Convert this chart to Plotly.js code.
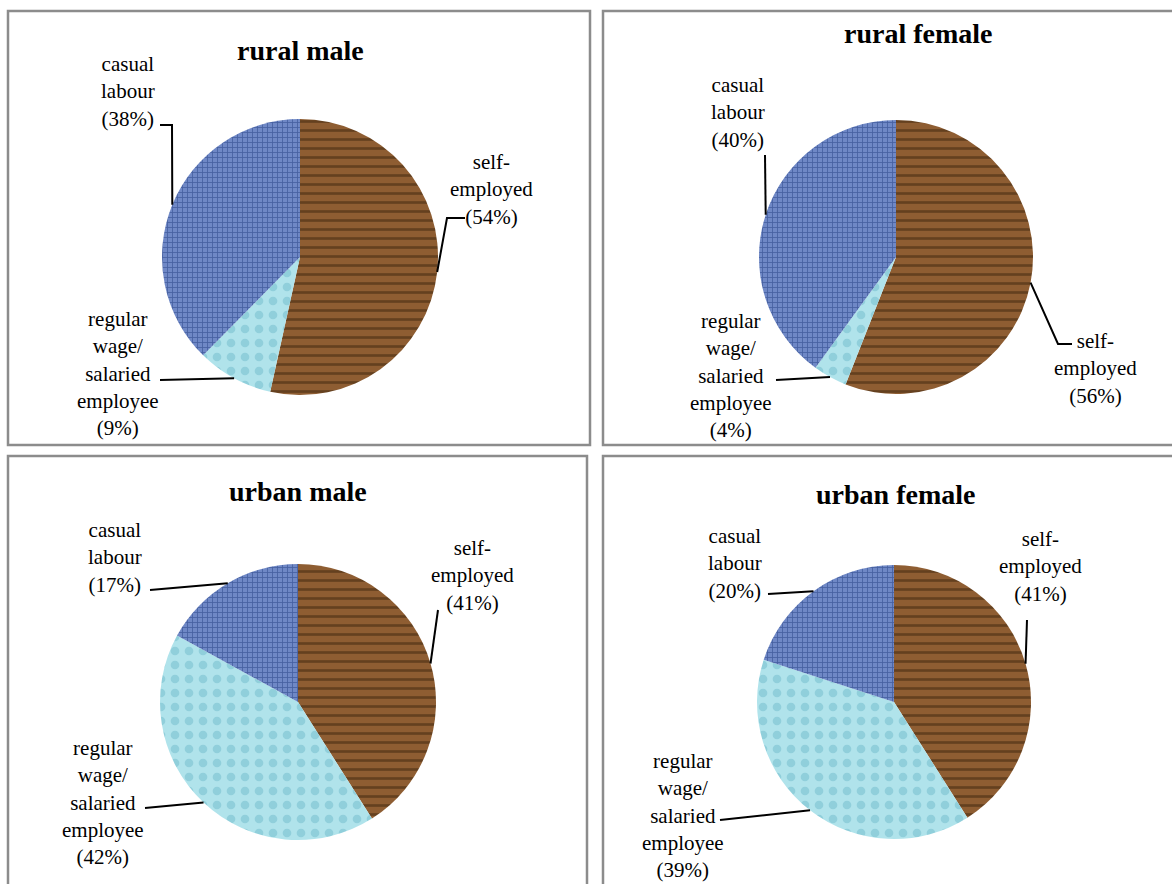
<!DOCTYPE html>
<html>
<head>
<meta charset="utf-8">
<script src="https://cdn.plot.ly/plotly-3.0.1.min.js"></script>
<style>html,body{margin:0;padding:0;background:#fff;}#chart{width:1172px;height:884px;}</style>
</head>
<body>
<div id="chart"></div>
<script>
// ---- data ----
const categories = ['self-employed', 'regular wage/ salaried employee', 'casual labour'];
const labelLines = [['self-', 'employed'], ['regular', 'wage/', 'salaried', 'employee'], ['casual', 'labour']];
const panelTitles = ['rural male', 'rural female', 'urban male', 'urban female'];
const ruralMale = [54, 9, 38];
const ruralFemale = [56, 4, 40];
const urbanMale = [41, 42, 17];
const urbanFemale = [41, 39, 20];
const panelValues = [ruralMale, ruralFemale, urbanMale, urbanFemale];

// ---- layout config (pixels) ----
const W = 1172, H = 884;
const FONT = '"Liberation Serif", "Times New Roman", serif';
const LINE = 26;
// order: self-employed (wood), regular wage (water), casual labour (denim)
const sliceBg = ['#8e5d32', '#b0e3eb', '#6f88c6'];
const sliceFg = ['#64401f', '#90cfdb', '#4660a0'];
const sliceShape = ['-', '.', '+'];
const sliceSize = [9, 14, 5];
const sliceSolid = [0.3, 0.3, 0.3];

const panelBoxes = [
  [8, 11, 590, 445], [603, 11, 1185, 445],
  [8, 456, 587, 895], [603, 456, 1185, 895]
];
const pies = [
  {cx: 300, cy: 257, r: 138}, {cx: 896, cy: 257, r: 137},
  {cx: 298, cy: 702, r: 138}, {cx: 894, cy: 702, r: 137}
];
const titlePos = [[300, 50], [918, 34], [298, 491], [895, 494]];
// label text: [centerX, first line centerY]; leader: points from text side toward slice
const labelPos = [
  [[492, 163], [118, 321], [128, 66]],
  [[1095, 342], [731, 323], [738, 87]],
  [[472, 549], [103, 750], [115, 531]],
  [[1040, 540], [683, 763], [735, 537]]
];
const leaders = [
  [[[465, 218], [447, 218]], [[160, 380]], [[160, 125], [172, 125]]],
  [[[1072, 344], [1058, 344]], [[776, 380]], [[765, 155]]],
  [[[438, 610]], [[145, 808]], [[150, 590]]],
  [[[1027, 620]], [[720, 820]], [[768, 594]]]
];

const px = x => x / W;
const py = y => 1 - y / H;

const traces = [];
const shapes = [];
const annotations = [];

panelValues.forEach((vals, p) => {
  const {cx, cy, r} = pies[p];
  traces.push({
    type: 'pie',
    values: vals,
    labels: categories,
    sort: false,
    direction: 'clockwise',
    rotation: 0,
    textinfo: 'none',
    hoverinfo: 'label+value',
    showlegend: false,
    domain: {x: [px(cx - r), px(cx + r)], y: [py(cy + r), py(cy - r)]},
    marker: {
      colors: sliceBg,
      line: {width: 0},
      pattern: {shape: sliceShape, fgcolor: sliceFg, bgcolor: sliceBg, size: sliceSize, solidity: sliceSolid}
    }
  });

  const b = panelBoxes[p];
  shapes.push({type: 'rect', xref: 'paper', yref: 'paper',
    x0: px(b[0]), x1: px(b[2]), y0: py(b[3]), y1: py(b[1]),
    line: {color: '#8c8c8c', width: 2.5}, fillcolor: 'rgba(0,0,0,0)'});

  annotations.push({xref: 'paper', yref: 'paper', x: px(titlePos[p][0]), y: py(titlePos[p][1]),
    xanchor: 'center', yanchor: 'middle', showarrow: false,
    text: '<b>' + panelTitles[p] + '</b>', font: {family: FONT, size: 28, color: '#000'}});

  const total = vals.reduce((a, v) => a + v, 0);
  let cum = 0;
  vals.forEach((v, i) => {
    const mid = (cum + v / 2) / total;
    cum += v;
    const th = 2 * Math.PI * mid;
    const ex = cx + r * Math.sin(th);
    const ey = cy - r * Math.cos(th);
    const lines = labelLines[i].concat(['(' + v + '%)']);
    const [tx, ty] = labelPos[p][i];
    annotations.push({xref: 'paper', yref: 'paper', x: px(tx), y: py(ty + (lines.length - 1) * LINE / 2),
      xanchor: 'center', yanchor: 'middle', showarrow: false, align: 'center',
      text: lines.join('<br>'), font: {family: FONT, size: 21, color: '#000'}});
    const pts = leaders[p][i].concat([[ex, ey]]);
    const path = pts.map((q, k) => (k ? 'L ' : 'M ') + px(q[0]) + ' ' + py(q[1])).join(' ');
    shapes.push({type: 'path', xref: 'paper', yref: 'paper', path: path,
      line: {color: '#000', width: 2}});
  });
});

Plotly.newPlot('chart', traces, {
  width: W, height: H,
  margin: {l: 0, r: 0, t: 0, b: 0},
  paper_bgcolor: '#fff',
  plot_bgcolor: '#fff',
  shapes: shapes,
  annotations: annotations
}, {displayModeBar: false, staticPlot: true});
</script>
</body>
</html>
